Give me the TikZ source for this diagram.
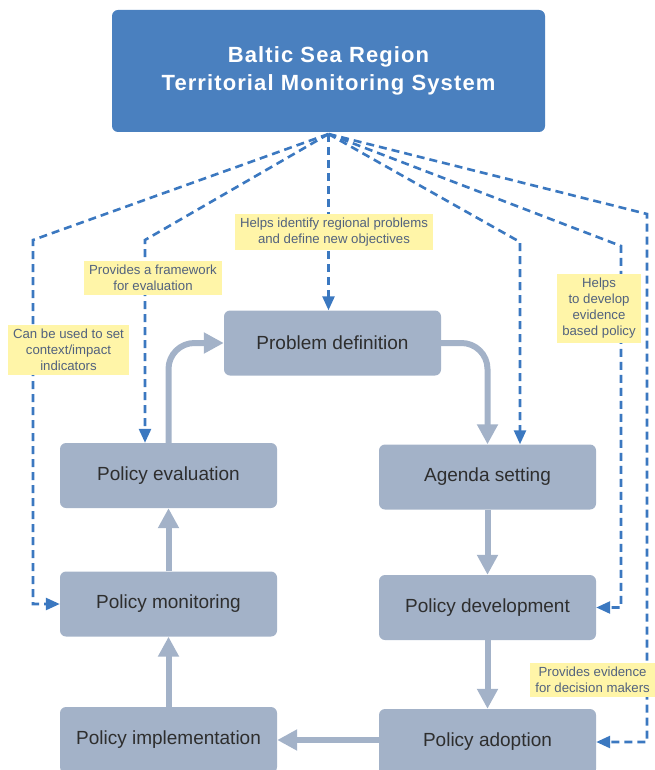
\documentclass[tikz,border=0pt]{standalone}
\usepackage{fontspec}
\setmainfont{Liberation Sans}
\newfontfamily\titlefont{Liberation Sans}[LetterSpace=5]
\usetikzlibrary{arrows.meta}
\definecolor{topblue}{HTML}{4A80BF}
\definecolor{boxgrey}{HTML}{A3B2C8}
\definecolor{dashblue}{HTML}{3B78C0}
\definecolor{labyellow}{HTML}{FFF5A8}
\definecolor{labtext}{HTML}{52627E}
\definecolor{boxtext}{HTML}{2E2E2E}
\tikzset{
  proc/.style={rectangle, rounded corners=6pt, fill=boxgrey, minimum width=217pt, minimum height=65pt, inner sep=0pt, text=boxtext, font=\fontsize{19}{22}\selectfont},
  flow/.style={line width=6pt, draw=boxgrey, -{Triangle[width=20pt,length=20pt]}},
  dsh/.style={line width=2.6pt, draw=dashblue, dash pattern=on 8pt off 5pt, -{Triangle[width=12pt,length=14pt]}},
  lab/.style={fill=labyellow, text=labtext, align=center, inner xsep=5pt, inner ysep=4pt, font=\fontsize{13.2}{16}\selectfont}
}
\begin{document}
\begin{tikzpicture}[x=1pt,y=1pt]
\useasboundingbox (0,0) rectangle (655,-770);
% title
\node[fill=topblue, rounded corners=6pt, minimum width=433pt, minimum height=122pt, inner sep=0pt, text=white, align=center, font=\titlefont\bfseries\fontsize{22}{28}\selectfont] (top) at (328.5,-71) {Baltic Sea Region\\Territorial Monitoring System};
% process boxes
\node[proc] (pd) at (332.5,-343) {Problem definition};
\node[proc] (as) at (487.5,-477) {Agenda setting};
\node[proc] (pdev) at (487.5,-607.5) {Policy development};
\node[proc, minimum height=66pt] (pa) at (487.5,-742) {Policy adoption};
\node[proc, minimum height=66pt] (pi) at (168.5,-740) {Policy implementation};
\node[proc] (pm) at (168.5,-604) {Policy monitoring};
\node[proc] (pe) at (168.5,-475.5) {Policy evaluation};
% grey flow
\draw[flow, rounded corners=26pt] (pe.north) |- (pd.west);
\draw[flow, rounded corners=26pt] (pd.east) -| (as.north);
\draw[flow] (as.south) -- (pdev.north);
\draw[flow] (pdev.south) -- (pa.north);
\draw[flow] (pi.east -| pa.west) -- (pi.east);
\draw[flow] (pi.north) -- (pm.south);
\draw[flow] (pm.north) -- (pe.south);
% dashed links
\coordinate (o) at (328.5,-134);
\coordinate (c1) at (33,-240);
\coordinate (c2) at (145,-240);
\coordinate (c4) at (520,-242);
\coordinate (c5) at (621,-246);
\coordinate (c6) at (647,-214);
\draw[dsh] (o) -- (c1) |- (pm.west);
\draw[dsh] (o) -- (c2) -- (c2 |- pe.north);
\draw[dsh] (o) -- (o |- pd.north);
\draw[dsh] (o) -- (c4) -- (c4 |- as.north);
\draw[dsh] (o) -- (c5) |- (pdev.east);
\draw[dsh] (o) -- (c6) |- (pa.east);
% labels
\node[lab] (l1) at (68.5,-350) {Can be used to set\\context/impact\\indicators};
\node[lab] (l2) at (153,-278) {Provides a framework\\for evaluation};
\node[lab] (l3) at (334,-232) {Helps identify regional problems\\and define new objectives};
\node[lab] (l4) at (599,-308.5) {Helps\\to develop\\evidence\\based policy};
\node[lab, anchor=east] (l5) at (655,-680) {Provides evidence\\for decision makers};
\end{tikzpicture}
\end{document}
